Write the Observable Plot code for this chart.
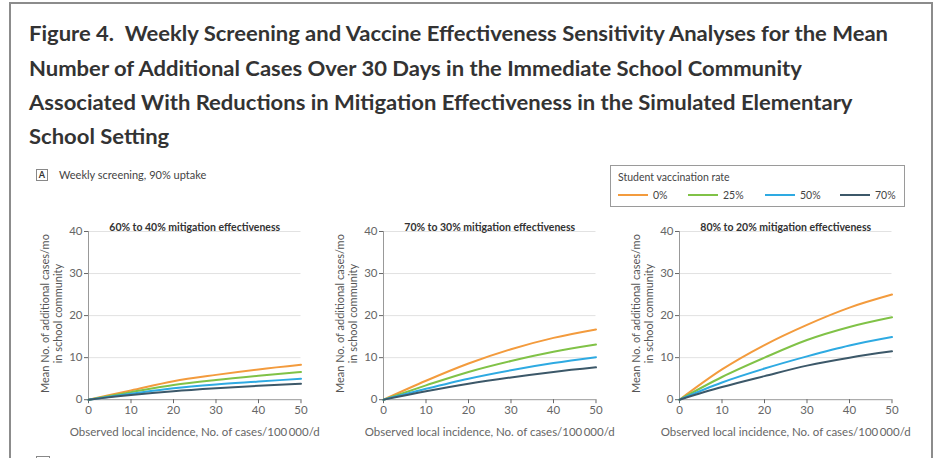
<!DOCTYPE html>
<html>
<head>
<meta charset="utf-8">
<script src="https://cdn.jsdelivr.net/npm/d3@7"></script>
<script src="https://cdn.jsdelivr.net/npm/@observablehq/plot@0.6"></script>
<style>
  html, body { margin: 0; padding: 0; background: #fff; }
  body { width: 938px; height: 458px; position: relative; overflow: hidden; font-family: Lato, "Open Sans", sans-serif; }
  #frame { position: absolute; left: 9px; top: 2px; width: 924px; height: 520px; border: 2px solid #8c8c8c; box-sizing: border-box; }
  .tline { position: absolute; left: 29px; white-space: pre; font-weight: 700; font-size: 20px; line-height: 24px; color: #333; transform-origin: 0 50%; }
  .plabel { position: absolute; box-sizing: border-box; border: 1px solid #888; font-size: 9px; font-weight: 700; text-align: center; color: #333; }
  #subA { position: absolute; left: 59px; top: 168px; font-size: 11px; color: #444; white-space: nowrap; }
  #legend { position: absolute; left: 610px; top: 165px; width: 295px; height: 42px; box-sizing: border-box; border: 1.5px solid #9a9a9a; font-size: 10.5px; color: #444; }
  #legend .lt { position: absolute; left: 7px; top: 5px; white-space: nowrap; }
  #legend .item { position: absolute; top: 23px; white-space: nowrap; display: flex; align-items: center; }
  #legend .item span.sw { display: inline-block; width: 30px; height: 0; border-top: 2px solid; margin-right: 5px; }
  .panel { position: absolute; }
</style>
</head>
<body>
<div id="frame"></div>
<div id="titles"></div>
<div class="plabel" style="left:36px;top:169px;width:12px;height:12px;line-height:10px;">A</div>
<div id="subA"></div>
<div id="legend"><div class="lt"></div></div>
<div class="plabel" style="left:36px;top:456px;width:14px;height:14px;"></div>
<script>
// ---------- data ----------
const titleLines = [
  "Figure 4.  Weekly Screening and Vaccine Effectiveness Sensitivity Analyses for the Mean",
  "Number of Additional Cases Over 30 Days in the Immediate School Community",
  "Associated With Reductions in Mitigation Effectiveness in the Simulated Elementary",
  "School Setting"
];
const panelSubtitle = "Weekly screening, 90% uptake";
const legendTitle = "Student vaccination rate";
const rates = ["0%", "25%", "50%", "70%"];
const rateColors = ["#f39b3d", "#80c247", "#2eaae2", "#3c5869"];
const panelTitles = [
  "60% to 40% mitigation effectiveness",
  "70% to 30% mitigation effectiveness",
  "80% to 20% mitigation effectiveness"
];
const xLabel = "Observed local incidence, No. of cases/100\u2009000/d";
const yLabel = "Mean No. of additional cases/mo\nin school community";
const xTicks = [0, 10, 20, 30, 40, 50];
const yTicks = [0, 10, 20, 30, 40];
const incidence = [0, 10, 20, 30, 40, 50];

// Panel 1: 60% to 40%
const p1_0  = [0, 2.2, 4.4, 5.9, 7.2, 8.3];
const p1_25 = [0, 1.8, 3.5, 4.7, 5.7, 6.6];
const p1_50 = [0, 1.4, 2.7, 3.6, 4.3, 5.0];
const p1_70 = [0, 1.1, 2.0, 2.7, 3.3, 3.8];
// Panel 2: 70% to 30%
const p2_0  = [0, 4.5, 8.6, 12.0, 14.7, 16.7];
const p2_25 = [0, 3.4, 6.6, 9.2, 11.4, 13.1];
const p2_50 = [0, 2.6, 5.0, 7.0, 8.7, 10.1];
const p2_70 = [0, 2.0, 3.8, 5.3, 6.6, 7.7];
// Panel 3: 80% to 20%
const p3_0  = [0, 7.2, 13.0, 17.8, 21.9, 25.0];
const p3_25 = [0, 5.4, 10.0, 14.2, 17.3, 19.6];
const p3_50 = [0, 4.1, 7.4, 10.3, 12.9, 14.9];
const p3_70 = [0, 3.0, 5.6, 8.1, 10.0, 11.5];

const panelSeries = [
  [p1_0, p1_25, p1_50, p1_70],
  [p2_0, p2_25, p2_50, p2_70],
  [p3_0, p3_25, p3_50, p3_70]
];

// ---------- title ----------
const titles = document.getElementById("titles");
const lineCenters = [33, 67.5, 102, 136];
const spans = titleLines.map((t, i) => {
  const d = document.createElement("div");
  d.className = "tline";
  d.textContent = t;
  d.style.top = (lineCenters[i] - 12) + "px";
  titles.appendChild(d);
  return d;
});
const w0 = spans[0].getBoundingClientRect().width;
const s = 859 / w0;
spans.forEach(d => d.style.transform = `scaleX(${s})`);

document.getElementById("subA").textContent = panelSubtitle;

// ---------- legend ----------
const legend = document.getElementById("legend");
legend.querySelector(".lt").textContent = legendTitle;
const legendX = [7, 77, 154, 229];
rates.forEach((r, i) => {
  const it = document.createElement("div");
  it.className = "item";
  it.style.left = legendX[i] + "px";
  it.innerHTML = `<span class="sw" style="border-color:${rateColors[i]}"></span>${r}`;
  legend.appendChild(it);
});

// ---------- panels ----------
const axisLefts = [87.7, 383.3, 679.3];
const mL = 60, mR = 30, mT = 20, mB = 47;
const innerW = 212.5, innerH = 168.2;
panelSeries.forEach((series, pi) => {
  const rows = series.flatMap((vals, si) =>
    vals.map((v, k) => ({x: incidence[k], y: v, rate: rates[si]})));
  const chart = Plot.plot({
    width: mL + innerW + mR,
    height: mT + innerH + mB,
    marginLeft: mL, marginRight: mR, marginTop: mT, marginBottom: mB,
    style: {fontFamily: "Lato, 'Open Sans', sans-serif", fontSize: "11px", background: "transparent", overflow: "visible"},
    x: {domain: [0, 50]},
    y: {domain: [0, 40]},
    color: {domain: rates, range: rateColors},
    marks: [
      Plot.gridY(yTicks.slice(1), {stroke: "#e2e2e2", strokeOpacity: 1, strokeWidth: 1}),
      Plot.ruleY([0], {stroke: "#999"}),
      Plot.ruleX([0], {stroke: "#999"}),
      Plot.axisX({ticks: xTicks, tickSize: 4, tickPadding: 2, color: "#666", fontSize: 11.5,
                  label: xLabel, labelAnchor: "center", labelOffset: 36, labelArrow: "none"}),
      Plot.axisY({ticks: yTicks, tickSize: 4, tickPadding: 2, color: "#666", fontSize: 11.5, label: null}),
      Plot.line(rows, {x: "x", y: "y", z: "rate", stroke: "rate", strokeWidth: 2, curve: "monotone-x"}),
      Plot.text([panelTitles[pi]], {frameAnchor: "top", dy: -8, fontWeight: "bold", fontSize: 10.5, fill: "#333"}),
      Plot.text([yLabel], {frameAnchor: "left", textAnchor: "middle", lineAnchor: "middle", rotate: -90,
                           dx: -37, dy: -2, fontSize: 11, fill: "#555", lineHeight: 1.15})
    ]
  });
  const wrap = document.createElement("div");
  wrap.className = "panel";
  wrap.style.left = (axisLefts[pi] - mL) + "px";
  wrap.style.top = (230.8 - mT) + "px";
  wrap.appendChild(chart);
  document.body.appendChild(wrap);
});
</script>
</body>
</html>
